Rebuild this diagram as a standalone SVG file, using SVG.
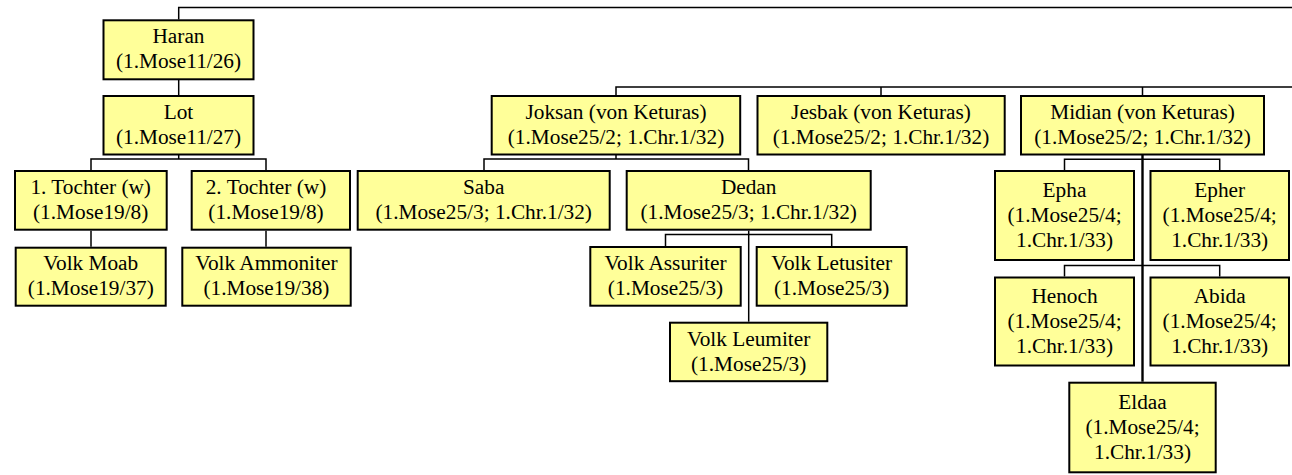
<svg xmlns="http://www.w3.org/2000/svg" width="1292" height="475" viewBox="0 0 1292 475">
<style>
.box{fill:#ffff99;stroke:#000;stroke-width:2}
.t{font-family:"Liberation Serif","Times New Roman",serif;font-size:21.3px;fill:#000;text-anchor:middle}
.c{fill:none;stroke:#000;stroke-width:1.5}
.c2{fill:none;stroke:#000;stroke-width:2.4}
</style>
<rect width="1292" height="475" fill="#fff"/>
<g id="connectors">
<path class="c" d="M178.7 19.5V7.5H1292"/>
<path class="c" d="M178.7 80V95"/>
<path class="c" d="M178.7 155V159"/>
<path class="c" d="M91 170V159H266V170"/>
<path class="c" d="M91 230.7V246.7"/>
<path class="c" d="M266 230.7V246.7"/>
<path class="c" d="M616 95V87H1292"/>
<path class="c" d="M881 87V95"/>
<path class="c" d="M1142.5 87V95"/>
<path class="c" d="M616 155V159"/>
<path class="c" d="M484 170V159H748.5V170"/>
<path class="c" d="M748.7 230.7V321.7"/>
<path class="c" d="M665.5 246V234.5H831.7V246"/>
<path class="c2" d="M1142.5 155V381.7"/>
<path class="c" d="M1064.5 170V159.3H1219.7V170"/>
<path class="c" d="M1064.5 276.5V265.5H1219.7V276.5"/>
</g>
<g id="haran"><rect class="box" x="103.5" y="20.3" width="150" height="59"/><text class="t" x="178.5" y="43.4">Haran<tspan x="178.5" dy="25">(1.Mose11/26)</tspan></text></g>
<g id="lot"><rect class="box" x="103.5" y="96" width="150" height="58.5"/><text class="t" x="178.5" y="118.7">Lot<tspan x="178.5" dy="25">(1.Mose11/27)</tspan></text></g>
<g id="tochter1"><rect class="box" x="15" y="171" width="151.7" height="58.7"/><text class="t" x="90.7" y="194">1. Tochter (w)<tspan x="90.7" dy="25">(1.Mose19/8)</tspan></text></g>
<g id="tochter2"><rect class="box" x="191.7" y="171" width="158.3" height="58.7"/><text class="t" x="266" y="194">2. Tochter (w)<tspan x="266" dy="25">(1.Mose19/8)</tspan></text></g>
<g id="moab"><rect class="box" x="15.7" y="247.7" width="150" height="58"/><text class="t" x="90.8" y="270.4">Volk Moab<tspan x="90.8" dy="25">(1.Mose19/37)</tspan></text></g>
<g id="ammoniter"><rect class="box" x="182.3" y="247.7" width="168.4" height="58"/><text class="t" x="266.4" y="270.4">Volk Ammoniter<tspan x="266.4" dy="25">(1.Mose19/38)</tspan></text></g>
<g id="joksan"><rect class="box" x="491.7" y="96" width="248.5" height="58.5"/><text class="t" x="616" y="118.7">Joksan (von Keturas)<tspan x="616" dy="25">(1.Mose25/2; 1.Chr.1/32)</tspan></text></g>
<g id="jesbak"><rect class="box" x="757.5" y="96" width="247.2" height="58.5"/><text class="t" x="881" y="118.7">Jesbak (von Keturas)<tspan x="881" dy="25">(1.Mose25/2; 1.Chr.1/32)</tspan></text></g>
<g id="midian"><rect class="box" x="1021" y="96" width="243" height="58.5"/><text class="t" x="1142.5" y="118.7">Midian (von Keturas)<tspan x="1142.5" dy="25">(1.Mose25/2; 1.Chr.1/32)</tspan></text></g>
<g id="saba"><rect class="box" x="357.7" y="171" width="252" height="58.7"/><text class="t" x="483.7" y="194">Saba<tspan x="483.7" dy="25">(1.Mose25/3; 1.Chr.1/32)</tspan></text></g>
<g id="dedan"><rect class="box" x="626.7" y="171" width="244" height="58.7"/><text class="t" x="748.7" y="194">Dedan<tspan x="748.7" dy="25">(1.Mose25/3; 1.Chr.1/32)</tspan></text></g>
<g id="assuriter"><rect class="box" x="590.3" y="247" width="150.4" height="58.7"/><text class="t" x="665.5" y="270">Volk Assuriter<tspan x="665.5" dy="25">(1.Mose25/3)</tspan></text></g>
<g id="letusiter"><rect class="box" x="756.7" y="247" width="150" height="58.7"/><text class="t" x="831.7" y="270">Volk Letusiter<tspan x="831.7" dy="25">(1.Mose25/3)</tspan></text></g>
<g id="leumiter"><rect class="box" x="670" y="322.7" width="157.3" height="58.5"/><text class="t" x="748.7" y="345.6">Volk Leumiter<tspan x="748.7" dy="25">(1.Mose25/3)</tspan></text></g>
<g id="epha"><rect class="box" x="995" y="171" width="139" height="89"/><text class="t" x="1064.5" y="196.7">Epha<tspan x="1064.5" dy="25">(1.Mose25/4;</tspan><tspan x="1064.5" dy="25">1.Chr.1/33)</tspan></text></g>
<g id="epher"><rect class="box" x="1150.5" y="171" width="138.5" height="89"/><text class="t" x="1219.7" y="196.7">Epher<tspan x="1219.7" dy="25">(1.Mose25/4;</tspan><tspan x="1219.7" dy="25">1.Chr.1/33)</tspan></text></g>
<g id="henoch"><rect class="box" x="995" y="277.5" width="139" height="88"/><text class="t" x="1064.5" y="302.7">Henoch<tspan x="1064.5" dy="25">(1.Mose25/4;</tspan><tspan x="1064.5" dy="25">1.Chr.1/33)</tspan></text></g>
<g id="abida"><rect class="box" x="1150.5" y="277.5" width="138.5" height="88"/><text class="t" x="1219.7" y="302.7">Abida<tspan x="1219.7" dy="25">(1.Mose25/4;</tspan><tspan x="1219.7" dy="25">1.Chr.1/33)</tspan></text></g>
<g id="eldaa"><rect class="box" x="1069.3" y="382.7" width="146.4" height="89.6"/><text class="t" x="1142.5" y="408.7">Eldaa<tspan x="1142.5" dy="25">(1.Mose25/4;</tspan><tspan x="1142.5" dy="25">1.Chr.1/33)</tspan></text></g>
</svg>
